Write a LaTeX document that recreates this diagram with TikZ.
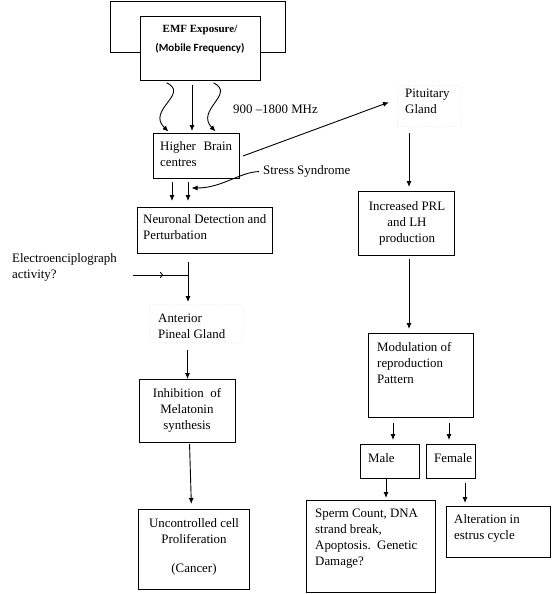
\documentclass[tikz,border=0pt]{standalone}
\usepackage{fontspec}
\setmainfont{Liberation Serif}
\newfontfamily\calfont{Carlito}
\usetikzlibrary{arrows.meta,calc}
\begin{document}
\begin{tikzpicture}[x=1pt,y=-1pt,
  font=\fontsize{12.9}{16}\selectfont,
  box/.style={draw, line width=1pt, inner sep=0pt, anchor=north west},
  faint/.style={draw=black!6, dotted, inner sep=0pt, anchor=north west},
  txt/.style={inner sep=0pt, anchor=north west, align=left},
  ctxt/.style={inner sep=0pt, anchor=north, align=center},
  arr/.style={line width=0.9pt, -{Latex[length=6pt,width=5pt]}},
  openarr/.style={line width=0.9pt, -{To[length=3pt,width=6pt]}},
  plain/.style={line width=0.9pt},
]
\useasboundingbox (0,0) rectangle (553,594);

% EMF source
\node[box, minimum width=120pt, minimum height=64pt] (emf) at (140,16) {};
\node[inner sep=0pt, anchor=base, font=\fontsize{11}{13}\selectfont\bfseries] (emfA) at (200,33) {EMF Exposure/};
\node[inner sep=0pt, anchor=base, font=\calfont\fontsize{11}{13}\selectfont\bfseries] (emfB) at (200,52) {(Mobile Frequency)};
\draw[line width=1pt] (emf.west |- 0,53) -- (110,53) -- (110,2) -- (285,2) -- (285,53) -- (emf.east |- 0,53);

\node[txt] (freq) at (233,104.4) {900 --1800 MHz};

% left column
\node[box, minimum width=86pt, minimum height=45pt] (higher) at (153,133) {};
\node[inner sep=0pt, anchor=north west, text width=72pt, align=justify] (higherT) at (160,141.4) {Higher Brain\linebreak centres};

\node[txt] (stress) at (263,165.4) {Stress Syndrome};

\node[box, minimum width=135pt, minimum height=46pt] (neur) at (137,207) {};
\node[inner sep=0pt, anchor=north west, text width=123pt, align=justify] (neurT) at (143,214.4) {Neuronal Detection and\linebreak Perturbation};

\node[txt] (elecT) at (12,253.4) {Electroenciplograph\\activity?};

\node[faint, minimum width=94pt, minimum height=38pt] (pin) at (149,304) {};
\node[txt] (pinT) at (158,313.4) {Anterior\\Pineal Gland};

\node[box, minimum width=96pt, minimum height=63pt] (inh) at (139,379) {};
\node[ctxt] (inhT) at (187,388.4) {Inhibition\ \ of\\Melatonin\\synthesis};

\node[box, minimum width=111pt, minimum height=80pt] (unc) at (138,509) {};
\node[ctxt] (uncT) at (194,518.4) {Uncontrolled cell\\Proliferation\\[13pt](Cancer)};

% right column
\node[faint, minimum width=63pt, minimum height=41pt] (pit) at (397,85) {};
\node[txt] (pitT) at (405,88.4) {Pituitary\\Gland};

\node[box, minimum width=96pt, minimum height=64pt] (prl) at (358,191) {};
\node[ctxt] (prlT) at (407,201.4) {Increased PRL\\and LH\\production};

\node[box, minimum width=105pt, minimum height=84pt] (mod) at (368,333) {};
\node[txt] (modT) at (377,342.4) {Modulation of\\reproduction\\Pattern};

\node[box, minimum width=59pt, minimum height=34pt] (male) at (360,444) {};
\node[txt] (maleT) at (368,453.4) {Male};
\node[box, minimum width=49pt, minimum height=34pt] (fem) at (426,444) {};
\node[txt] (femT) at (434,453.4) {Female};

\node[box, minimum width=129pt, minimum height=92pt] (sp) at (306,500) {};
\node[txt] (spT) at (315,508.4) {Sperm Count, DNA\\strand break,\\Apoptosis.\ \ Genetic\\Damage?};

\node[box, minimum width=104pt, minimum height=51pt] (alt) at (446,506) {};
\node[txt] (altT) at (454,514.4) {Alteration in\\estrus cycle};

% connectors
\draw[arr, shorten <=4pt, shorten >=2pt] (emf.south -| 163,0) .. controls (190,94) and (146,110) .. (higher.north -| 170,0);
\draw[arr, shorten <=4pt, shorten >=2pt] (emf.south -| 192,0) -- (higher.north -| 192,0);
\draw[arr, shorten <=4pt, shorten >=2pt] (emf.south -| 210,0) .. controls (236,94) and (195,110) .. (higher.north -| 217,0);

\draw[arr] ($(higher.east)+(3,0)$) -- ($(pit.west)+(-8,-3.5)$);
\draw[arr, shorten <=7pt, shorten >=4pt] (pit.south -| 409,0) -- (prl.north -| 409,0);

\coordinate (j2) at (188,188);
\draw[arr, shorten <=3pt, shorten >=6pt] (higher.south -| 172,0) -- (neur.north -| 172,0);
\draw[arr, shorten <=3pt, shorten >=6pt] (higher.south -| 188,0) -- (neur.north -| 188,0);
\draw[arr, shorten <=4pt, shorten >=3.5pt] (stress.west) .. controls (240,172) and (222,188) .. (j2);

\coordinate (ej) at (188,275);
\draw[arr, shorten <=8pt, shorten >=2pt] (neur.south -| 188,0) -- (pin.north -| 188,0);
\draw[openarr] ($(elecT.east |- ej)+(16,0)$) -- ($(ej)+(-25,0)$);
\draw[plain] ($(ej)+(-27,0)$) -- (ej);

\draw[arr, shorten <=8pt] (pin.south -| inh.north) -- (inh.north);
\draw[arr, shorten <=1pt, shorten >=5pt] ($(inh.south)+(2,0)$) -- ($(unc.north)+(-2.5,0)$);

\draw[arr, shorten <=3pt, shorten >=4pt] (prl.south -| 409,0) -- (mod.north -| 409,0);
\draw[arr, shorten <=5pt, shorten >=4pt] (mod.south -| 393,0) -- (male.north -| 393,0);
\draw[arr, shorten <=5pt, shorten >=4pt] (mod.south -| 449,0) -- (fem.north -| 449,0);
\draw[arr, shorten >=2pt] (male.south -| 386,0) -- (sp.north -| 386,0);
\draw[arr, shorten <=4pt, shorten >=3pt] (fem.south -| 465,0) -- (alt.north -| 465,0);
\end{tikzpicture}
\end{document}
